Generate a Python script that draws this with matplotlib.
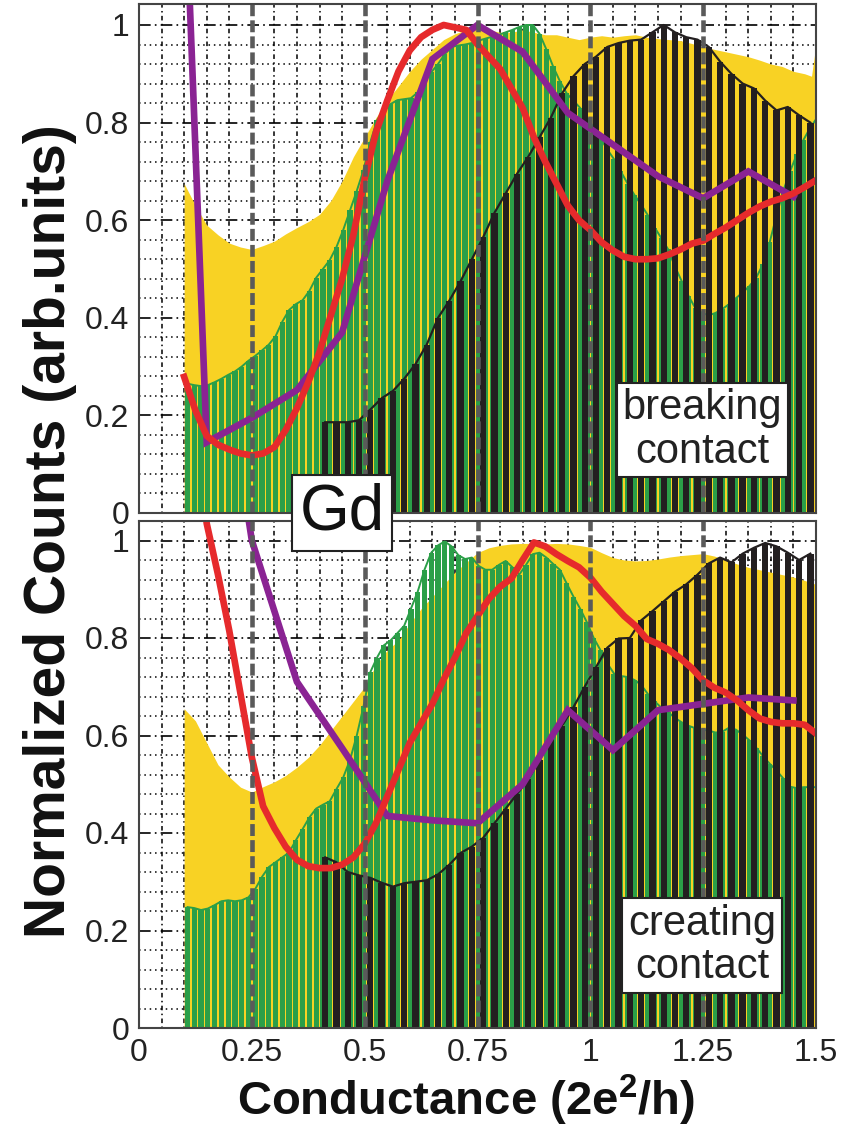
import numpy as np
import matplotlib
matplotlib.use("Agg")
import matplotlib.pyplot as plt

plt.rcParams['font.family'] = ['Liberation Sans', 'DejaVu Sans']
plt.rcParams['mathtext.fontset'] = 'custom'
plt.rcParams['mathtext.rm'] = 'Liberation Sans:bold'
plt.rcParams['mathtext.it'] = 'Liberation Sans:bold'
plt.rcParams['mathtext.bf'] = 'Liberation Sans:bold'

# ---------------- data: breaking contact (upper panel) ----------------
yel_top_x = [0.100, 0.125, 0.150, 0.175, 0.200, 0.225, 0.250, 0.275, 0.300, 0.325,
             0.350, 0.375, 0.400, 0.425, 0.450, 0.475, 0.500, 0.525, 0.550, 0.575,
             0.600, 0.625, 0.650, 0.675, 0.700, 0.725, 0.750, 0.775, 0.800, 0.825,
             0.850, 0.875, 0.900, 0.925, 0.950, 0.975, 1.000, 1.025, 1.050, 1.075,
             1.100, 1.125, 1.150, 1.175, 1.200, 1.225, 1.250, 1.275, 1.300, 1.325,
             1.350, 1.375, 1.400, 1.425, 1.450, 1.475, 1.490, 1.500]
yel_top = [0.675, 0.63, 0.59, 0.57, 0.553, 0.545, 0.540, 0.548, 0.557, 0.572,
           0.585, 0.597, 0.612, 0.64, 0.68, 0.73, 0.77, 0.81, 0.846, 0.875,
           0.905, 0.93, 0.95, 0.97, 0.982, 0.99, 0.995, 0.99, 0.985, 0.985,
           0.99, 0.985, 0.98, 0.98, 0.975, 0.97, 0.975, 0.978, 0.975, 0.978,
           0.98, 0.975, 0.972, 0.97, 0.968, 0.962, 0.955, 0.95, 0.945, 0.94,
           0.935, 0.928, 0.92, 0.915, 0.905, 0.90, 0.895, 0.96]

green_top = [0.265, 0.262, 0.260, 0.262, 0.268, 0.275, 0.283, 0.290, 0.300, 0.312,
             0.322, 0.333, 0.345, 0.362, 0.392, 0.416, 0.428, 0.436, 0.455, 0.482,
             0.500, 0.518, 0.545, 0.58, 0.62, 0.66, 0.703, 0.76, 0.805, 0.825,
             0.838, 0.846, 0.848, 0.850, 0.862, 0.885, 0.903, 0.92, 0.94, 0.955,
             0.958, 0.96, 0.963, 0.968, 0.972, 0.976, 0.98, 0.985, 0.99, 0.996,
             1.0, 1.0, 0.982, 0.95, 0.915, 0.885, 0.86, 0.845, 0.83, 0.81,
             0.79, 0.768, 0.745, 0.725, 0.70, 0.675, 0.652, 0.632, 0.61, 0.585,
             0.563, 0.54, 0.505, 0.475, 0.445, 0.42, 0.41, 0.405, 0.41, 0.418,
             0.428, 0.44, 0.452, 0.465, 0.482, 0.51, 0.555, 0.61, 0.66, 0.70,
             0.735, 0.765, 0.79, 0.81]

black_top = [0.186, 0.186, 0.186, 0.19, 0.212, 0.235, 0.25, 0.275, 0.305, 0.345,
             0.40, 0.435, 0.475, 0.52, 0.565, 0.615, 0.655, 0.695, 0.73, 0.77,
             0.81, 0.86, 0.895, 0.92, 0.935, 0.955, 0.963, 0.968, 0.97, 0.985,
             1.0, 0.985, 0.975, 0.97, 0.955, 0.925, 0.90, 0.88, 0.87, 0.845,
             0.825, 0.832, 0.815, 0.80]

red_top_x = [0.100, 0.125, 0.150, 0.175, 0.200, 0.225, 0.250, 0.275, 0.300, 0.325,
             0.350, 0.375, 0.400, 0.425, 0.450, 0.475, 0.500, 0.525, 0.550, 0.575,
             0.600, 0.625, 0.650, 0.675, 0.700, 0.725, 0.750, 0.775, 0.800, 0.825,
             0.850, 0.875, 0.900, 0.925, 0.950, 0.975, 1.000, 1.025, 1.050, 1.075,
             1.100, 1.125, 1.150, 1.175, 1.200, 1.225, 1.250, 1.275, 1.300, 1.325,
             1.350, 1.375, 1.400, 1.425, 1.450, 1.475, 1.500]
red_top = [0.279, 0.21, 0.158, 0.14, 0.13, 0.122, 0.118, 0.122, 0.135, 0.17,
           0.215, 0.268, 0.33, 0.405, 0.48, 0.57, 0.685, 0.78, 0.845, 0.905,
           0.948, 0.975, 0.99, 1.0, 0.995, 0.99, 0.96, 0.935, 0.91, 0.87,
           0.83, 0.77, 0.72, 0.675, 0.63, 0.60, 0.58, 0.555, 0.538, 0.525,
           0.52, 0.52, 0.522, 0.53, 0.54, 0.552, 0.558, 0.572, 0.585, 0.60,
           0.615, 0.628, 0.638, 0.645, 0.655, 0.668, 0.682]

purple_x = [0.05, 0.15, 0.25, 0.35, 0.45, 0.55, 0.65, 0.75, 0.85, 0.95,
            1.05, 1.15, 1.25, 1.35, 1.45]
purple_top = [2.55, 0.145, 0.195, 0.252, 0.37, 0.68, 0.93, 1.0, 0.945, 0.82,
              0.755, 0.69, 0.645, 0.70, 0.648]

# ---------------- data: creating contact (lower panel) ----------------
yel_bot_x = [0.100, 0.125, 0.150, 0.175, 0.200, 0.225, 0.250, 0.275, 0.300, 0.325,
             0.350, 0.375, 0.400, 0.425, 0.450, 0.475, 0.500, 0.525, 0.550, 0.575,
             0.600, 0.625, 0.650, 0.675, 0.700, 0.725, 0.750, 0.775, 0.800, 0.825,
             0.850, 0.875, 0.900, 0.925, 0.950, 0.975, 1.000, 1.025, 1.050, 1.075,
             1.100, 1.125, 1.150, 1.175, 1.200, 1.225, 1.250, 1.275, 1.300, 1.325,
             1.350, 1.375, 1.400, 1.425, 1.450, 1.475, 1.500]
yel_bot = [0.655, 0.63, 0.585, 0.54, 0.515, 0.494, 0.484, 0.495, 0.505, 0.518,
           0.535, 0.555, 0.58, 0.61, 0.64, 0.67, 0.70, 0.745, 0.775, 0.795,
           0.83, 0.86, 0.885, 0.91, 0.935, 0.955, 0.975, 0.985, 0.99, 0.993,
           0.994, 0.994, 0.993, 0.994, 0.993, 0.99, 0.986, 0.975, 0.965, 0.96,
           0.958, 0.959, 0.962, 0.966, 0.969, 0.971, 0.973, 0.968, 0.96, 0.952,
           0.945, 0.94, 0.935, 0.93, 0.925, 0.918, 0.91]

green_bot = [0.248, 0.246, 0.242, 0.245, 0.252, 0.260, 0.262, 0.260, 0.262, 0.268,
             0.285, 0.31, 0.33, 0.34, 0.35, 0.36, 0.385, 0.408, 0.432, 0.45,
             0.458, 0.465, 0.49, 0.514, 0.55, 0.60, 0.66, 0.73, 0.76, 0.785,
             0.795, 0.81, 0.825, 0.86, 0.895, 0.94, 0.975, 0.99, 0.998, 0.988,
             0.97, 0.962, 0.965, 0.948, 0.94, 0.94, 0.95, 0.958, 0.945, 0.93,
             0.95, 0.972, 0.975, 0.965, 0.952, 0.94, 0.912, 0.885, 0.86, 0.832,
             0.80, 0.775, 0.748, 0.727, 0.722, 0.72, 0.714, 0.704, 0.685, 0.67,
             0.657, 0.648, 0.636, 0.627, 0.62, 0.615, 0.612, 0.61, 0.606, 0.608,
             0.616, 0.612, 0.602, 0.59, 0.575, 0.558, 0.542, 0.528, 0.512, 0.495,
             0.492, 0.494, 0.494, 0.494]

black_bot = [0.35, 0.34, 0.32, 0.313, 0.308, 0.298, 0.29, 0.297, 0.30, 0.303,
             0.315, 0.335, 0.359, 0.372, 0.39, 0.42, 0.45, 0.48, 0.51, 0.55,
             0.595, 0.62, 0.658, 0.70, 0.74, 0.78, 0.799, 0.80, 0.836, 0.855,
             0.875, 0.895, 0.91, 0.93, 0.953, 0.965, 0.955, 0.973, 0.985, 0.995,
             0.988, 0.975, 0.96, 0.973]

red_bot_x = [0.125, 0.150, 0.175, 0.200, 0.225, 0.250, 0.275, 0.300, 0.325,
             0.350, 0.375, 0.400, 0.425, 0.450, 0.475, 0.500, 0.525, 0.550, 0.575,
             0.600, 0.625, 0.650, 0.675, 0.700, 0.725, 0.750, 0.775, 0.800, 0.825,
             0.850, 0.875, 0.900, 0.925, 0.950, 0.975, 1.000, 1.025, 1.050, 1.075,
             1.100, 1.125, 1.150, 1.175, 1.200, 1.225, 1.250, 1.275, 1.300, 1.325,
             1.350, 1.375, 1.400, 1.425, 1.450, 1.475, 1.500]
red_bot = [1.25, 1.035, 0.93, 0.815, 0.685, 0.555, 0.455, 0.41, 0.372,
           0.345, 0.332, 0.328, 0.328, 0.335, 0.35, 0.378, 0.42, 0.475, 0.53,
           0.585, 0.625, 0.665, 0.715, 0.76, 0.81, 0.845, 0.88, 0.905, 0.922,
           0.96, 0.996, 0.988, 0.972, 0.958, 0.945, 0.924, 0.895, 0.87, 0.845,
           0.825, 0.798, 0.788, 0.775, 0.758, 0.738, 0.713, 0.698, 0.688, 0.672,
           0.652, 0.635, 0.628, 0.625, 0.625, 0.622, 0.604]

purple_bot_x = [0.15, 0.25, 0.35, 0.45, 0.55, 0.65, 0.75, 0.85, 0.95,
                1.05, 1.15, 1.25, 1.35, 1.45]
purple_bot = [1.6, 1.0, 0.71, 0.574, 0.435, 0.426, 0.42, 0.50, 0.652,
              0.57, 0.652, 0.665, 0.678, 0.672]

x_ticks = [0, 0.25, 0.5, 0.75, 1, 1.25, 1.5]
x_ticklabels = ['0', '0.25', '0.5', '0.75', '1', '1.25', '1.5']
y_ticks = [0, 0.2, 0.4, 0.6, 0.8, 1.0]
y_ticklabels = ['0', '0.2', '0.4', '0.6', '0.8', '1']

# histogram binning
GREEN_BIN = 0.015
GREEN_START = 0.10
BLACK_BIN = 0.025
BLACK_START = 0.40

YELLOW = '#F8D224'
GREEN = '#2B9F48'
BLACK = '#231F20'
RED = '#E62A2C'
PURPLE = '#8A2393'
GRAY = '#5A5A5A'


def bin_centers(start, width, n):
    return start + width * (np.arange(n) + 0.5)


def draw_panel(ax, yx, yv, gv, bv, rx, rv, px, pv, ymax, show_x):
    ax.set_xlim(0, 1.5)
    ax.set_ylim(0, ymax)

    # background grid
    for k in range(1, 26):
        y = 0.04 * k
        if k % 5 == 0:
            ax.axhline(y, color='k', lw=1.2, ls=(0, (7, 2.5, 1, 2.5)), zorder=0.5)
        else:
            ax.axhline(y, color='k', lw=1.1, ls=(0, (1, 2.5)), zorder=0.5)
    for k in range(1, 30):
        if k % 5 != 0:
            ax.axvline(0.05 * k, color='k', lw=1.1, ls=(0, (1, 2.2, 3, 2.2)), zorder=0.5)

    ax.fill_between(yx, 0, yv, color=YELLOW, lw=0, zorder=1)

    gx = bin_centers(GREEN_START, GREEN_BIN, len(gv))
    ax.bar(gx, gv, width=GREEN_BIN * 0.77, color=GREEN, lw=0, zorder=2)
    ax.plot(gx, gv, color=GREEN, lw=1.4, zorder=2.2)

    bx = bin_centers(BLACK_START, BLACK_BIN, len(bv))
    ax.bar(bx, bv, width=BLACK_BIN * 0.56, color=BLACK, lw=0, zorder=3)
    ax.plot(bx, bv, color=BLACK, lw=1.6, zorder=3.2)

    ax.plot(px, pv, color=PURPLE, lw=4.8, zorder=4.5, solid_joinstyle='miter')
    ax.plot(rx, rv, color=RED, lw=4.8, zorder=5, solid_joinstyle='round')

    for x in [0.25, 0.5, 0.75, 1.0, 1.25]:
        ax.axvline(x, color=GRAY, lw=3.3, ls=(0, (2.6, 0.9)), zorder=6)

    ax.set_xticks(x_ticks)
    ax.set_yticks(y_ticks)
    ax.set_yticklabels(y_ticklabels)
    if show_x:
        ax.set_xticklabels(x_ticklabels)
    else:
        ax.set_xticklabels([])
    ax.tick_params(length=0, labelsize=23, pad=7, colors='#222222')
    for s in ax.spines.values():
        s.set_color('#444444')
        s.set_linewidth(1.5)
        s.set_zorder(8)


fig = plt.figure(figsize=(8.48, 11.37), dpi=100)
ax_top = fig.add_axes([139 / 848, 1 - 513 / 1137, 677 / 848, 509 / 1137])
ax_bot = fig.add_axes([139 / 848, 1 - 1028 / 1137, 677 / 848, 507 / 1137])

draw_panel(ax_top, yel_top_x, yel_top, green_top, black_top, red_top_x, red_top,
           purple_x, purple_top, 1.043, False)
draw_panel(ax_bot, yel_bot_x, yel_bot, green_bot, black_bot, red_bot_x, red_bot,
           purple_bot_x, purple_bot, 1.040, True)

box = dict(boxstyle='square,pad=0.14', fc='white', ec='#222222', lw=1.5)
ax_top.text(1.248, 0.17, 'breaking\ncontact', fontsize=30, ha='center', va='center',
            multialignment='center', linespacing=1.1, color='#222222', bbox=box, zorder=10)
ax_bot.text(1.248, 0.17, 'creating\ncontact', fontsize=30, ha='center', va='center',
            multialignment='center', linespacing=1.1, color='#222222', bbox=box, zorder=10)

fig.text(342 / 848, 1 - 513 / 1137, 'Gd', fontsize=46, ha='center', va='center',
         color='#111111', bbox=dict(boxstyle='square,pad=0.12', fc='white', ec='#222222', lw=1.5),
         zorder=10)

fig.text(50 / 848, 1 - 531 / 1137, 'Normalized Counts (arb.units)', rotation=90,
         fontsize=41, fontweight='bold', ha='center', va='center', color='#111111')
fig.text(466 / 848, 1 - 1100 / 1137, r'Conductance (2e$^{2}$/h)', fontsize=34,
         fontweight='bold', ha='center', va='center', color='#111111')

fig.savefig('out.png', dpi=100)
